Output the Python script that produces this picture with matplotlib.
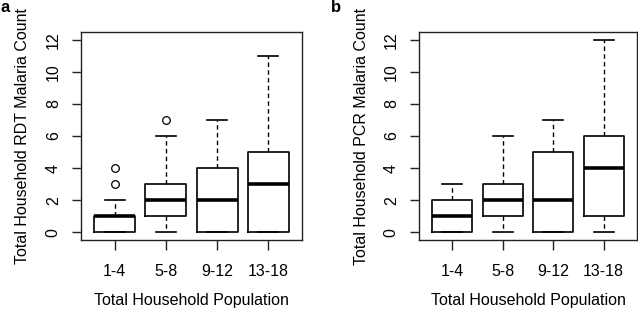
import matplotlib
matplotlib.use("Agg")
import matplotlib.pyplot as plt

plt.rcParams['font.family'] = ['Liberation Sans', 'DejaVu Sans']

categories = ["1-4", "5-8", "9-12", "13-18"]

# Panel a: RDT
rdt_low = [0, 0, 0, 0]
rdt_q1 = [0, 1, 0, 0]
rdt_med = [1, 2, 2, 3]
rdt_q3 = [1, 3, 4, 5]
rdt_high = [2, 6, 7, 11]
rdt_out = [[3, 4], [7], [], []]

# Panel b: PCR
pcr_low = [0, 0, 0, 0]
pcr_q1 = [0, 1, 0, 1]
pcr_med = [1, 2, 2, 4]
pcr_q3 = [2, 3, 5, 6]
pcr_high = [3, 6, 7, 12]
pcr_out = [[], [], [], []]

yticks = [0, 2, 4, 6, 8, 10, 12]

W, H = 638, 310
fig = plt.figure(figsize=(W / 100, H / 100), dpi=100)


def make_stats(low, q1, med, q3, high, out):
    return [dict(whislo=a, q1=b, med=c, q3=d, whishi=e, fliers=f, label=lab)
            for a, b, c, d, e, f, lab in zip(low, q1, med, q3, high, out, categories)]


def panel(left_px, width_px, stats, ylabel, letter, letter_x):
    ax = fig.add_axes([left_px / W, (H - 240) / H, width_px / W, 208 / H])
    ax.bxp(stats, positions=range(1, len(categories) + 1), widths=0.8,
           boxprops=dict(color='black', lw=1.2),
           medianprops=dict(color='black', lw=2.6, solid_capstyle='butt'),
           whiskerprops=dict(color='black', lw=1.0, linestyle=(0, (3.2, 2.4))),
           capprops=dict(color='black', lw=1.2),
           capwidths=0.4,
           flierprops=dict(marker='o', markerfacecolor='none', markeredgecolor='black',
                           markersize=5.5, markeredgewidth=0.9, linestyle='none'))
    ax.set_xlim(0.34, 4.66)
    ax.set_ylim(-0.48, 12.48)
    ax.set_yticks(yticks)
    ax.set_yticklabels([str(t) for t in yticks])
    ax.set_xticks(range(1, len(categories) + 1))
    ax.set_xticklabels(categories)
    for s in ax.spines.values():
        s.set_linewidth(1.0)
        s.set_color('#222222')
    ax.tick_params(axis='x', length=7, width=1.0, pad=10, labelsize=11.5, color='#222222')
    ax.tick_params(axis='y', length=6.5, width=1.0, pad=8, labelsize=11.5, labelrotation=90,
                   color='#222222')
    for lab in ax.get_yticklabels():
        lab.set_va('center')
    ax.set_ylabel(ylabel, fontsize=11.5, va='center')
    ax.yaxis.set_label_coords(-(left_px - (left_px - 58)) / width_px, 0.5)
    ax.set_xlabel("Total Household Population", fontsize=11.5, va='center')
    ax.xaxis.set_label_coords(0.5, -(300 - 240) / 208)
    fig.text(letter_x / W, 1 - 8 / H, letter, fontsize=12, fontweight='bold',
             ha='center', va='center')
    return ax


panel(81, 221, make_stats(rdt_low, rdt_q1, rdt_med, rdt_q3, rdt_high, rdt_out),
      "Total Household RDT Malaria Count", "a", 5)
panel(419, 218, make_stats(pcr_low, pcr_q1, pcr_med, pcr_q3, pcr_high, pcr_out),
      "Total Household PCR Malaria Count", "b", 336)

fig.savefig("out.png", dpi=100)
